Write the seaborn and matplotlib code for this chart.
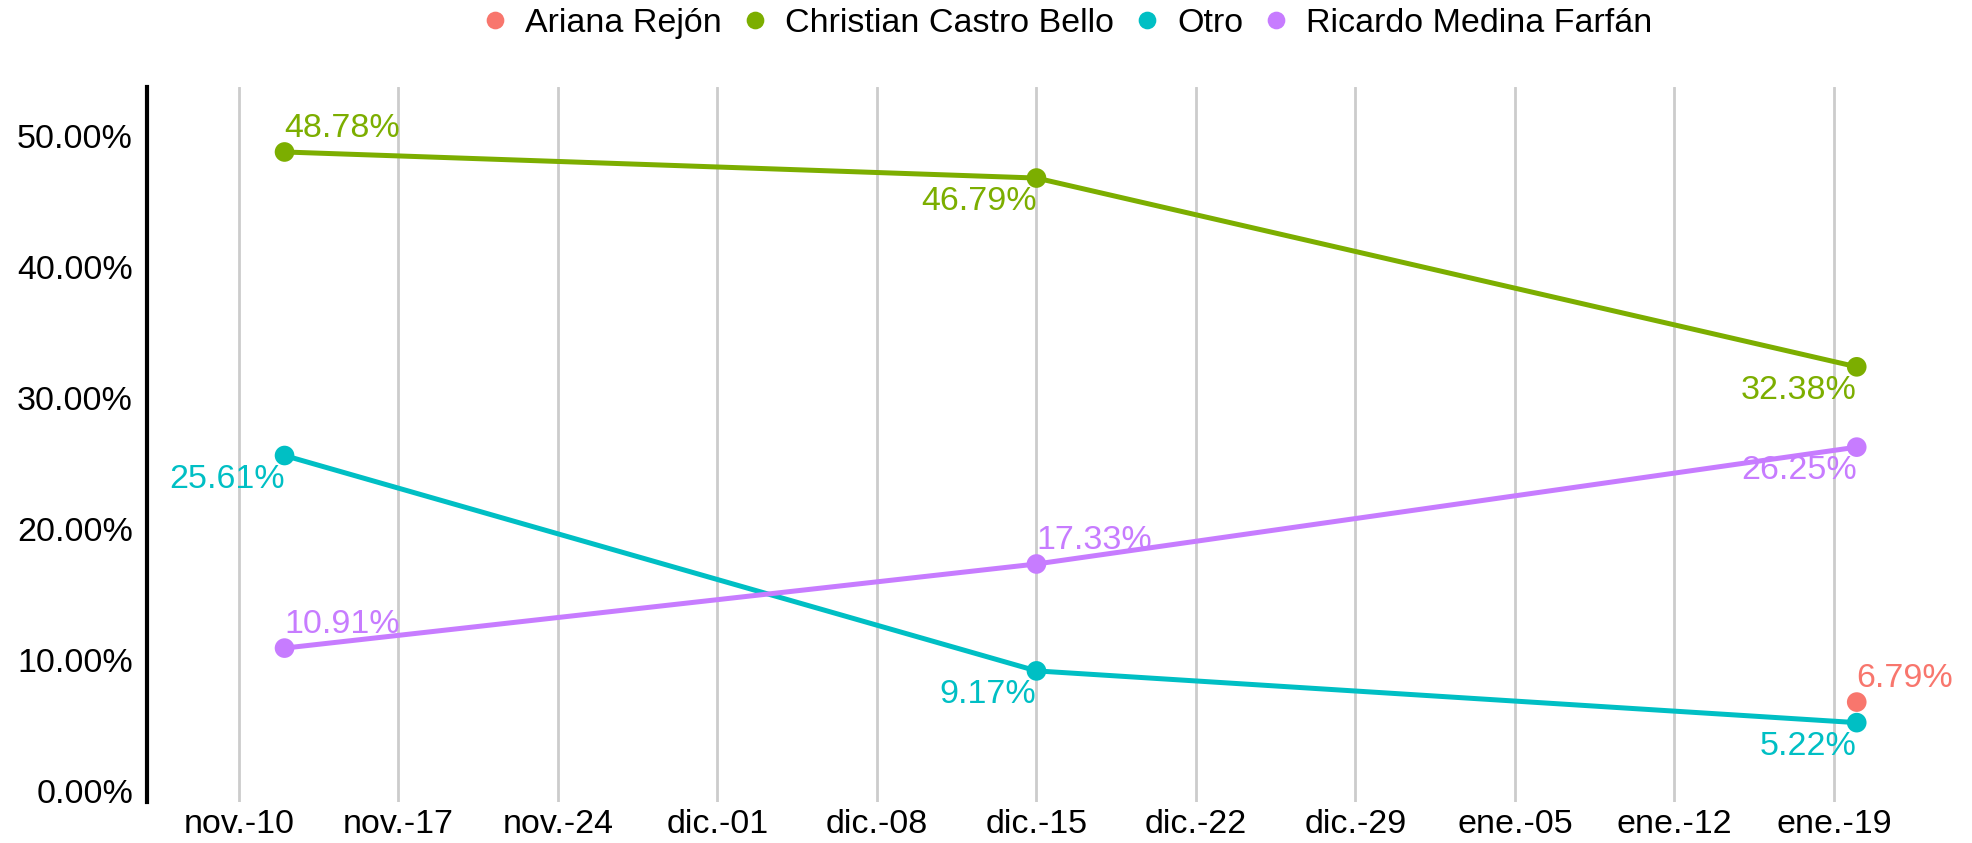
import pandas as pd
import matplotlib.pyplot as plt
import seaborn as sns

# datos de la encuesta (porcentajes)
candidatos = ["Ariana Rejón", "Christian Castro Bello", "Otro", "Ricardo Medina Farfán"]
fechas = ["2019-11-12", "2019-12-15", "2020-01-20"]
ariana = [None, None, 6.79]
christian = [48.78, 46.79, 32.38]
otro = [25.61, 9.17, 5.22]
ricardo = [10.91, 17.33, 26.25]
# etiqueta arriba-derecha (True) o abajo-izquierda (False)
etiqueta_arriba = {
    "Ariana Rejón": [None, None, True],
    "Christian Castro Bello": [True, False, False],
    "Otro": [False, False, False],
    "Ricardo Medina Farfán": [True, True, False],
}

ticks_fechas = pd.date_range("2019-11-10", "2020-01-19", freq="7D")
ticks_etiquetas = ["nov.-10", "nov.-17", "nov.-24", "dic.-01", "dic.-08", "dic.-15",
                   "dic.-22", "dic.-29", "ene.-05", "ene.-12", "ene.-19"]

colores = ["#F8766D", "#7CAE00", "#00BFC4", "#C77CFF"]

filas = []
for nombre, serie in zip(candidatos, [ariana, christian, otro, ricardo]):
    for f, v, arriba in zip(fechas, serie, etiqueta_arriba[nombre]):
        if v is not None:
            filas.append({"fecha": pd.Timestamp(f), "valor": v, "candidato": nombre, "arriba": arriba})
df = pd.DataFrame(filas)

sns.set_style("white")
plt.rcParams["font.family"] = ["Liberation Sans", "DejaVu Sans"]
tam = 24.5

fig = plt.figure(figsize=(19.72, 8.43), dpi=100)
ax = fig.add_axes([0.0745, 0.0486, 0.965 - 0.0745, 0.8968 - 0.0486])

paleta = dict(zip(candidatos, colores))
sns.lineplot(data=df, x="fecha", y="valor", hue="candidato", hue_order=candidatos,
             palette=paleta, linewidth=3.6, legend=False, ax=ax)
sns.scatterplot(data=df, x="fecha", y="valor", hue="candidato", hue_order=candidatos,
                palette=paleta, s=200, edgecolor="none", ax=ax, zorder=3)

for _, r in df.iterrows():
    if r["arriba"]:
        ax.annotate(f"{r['valor']:.2f}%", (r["fecha"], r["valor"]), xytext=(0, 6),
                    textcoords="offset points", ha="left", va="bottom",
                    color=paleta[r["candidato"]], fontsize=tam)
    else:
        ax.annotate(f"{r['valor']:.2f}%", (r["fecha"], r["valor"]), xytext=(0, -6),
                    textcoords="offset points", ha="right", va="top",
                    color=paleta[r["candidato"]], fontsize=tam)

x0 = ticks_fechas[0] - pd.Timedelta(days=4.04)
x1 = ticks_fechas[-1] + pd.Timedelta(days=3.03)
ax.set_xlim(x0, x1)
ax.set_ylim(-0.84, 53.74)

ax.set_xticks(ticks_fechas)
ax.set_xticklabels(ticks_etiquetas)
ax.set_yticks([0, 10, 20, 30, 40, 50])
ax.set_yticklabels([f"{v:.2f}%" for v in [0, 10, 20, 30, 40, 50]])
ax.tick_params(axis="both", length=0, labelsize=tam, labelcolor="black")
ax.tick_params(axis="x", pad=5)
ax.tick_params(axis="y", pad=10)

ax.grid(axis="x", color="#cccccc", linewidth=2)
ax.grid(axis="y", visible=False)
for lado in ["top", "right", "bottom"]:
    ax.spines[lado].set_visible(False)
ax.spines["left"].set_color("black")
ax.spines["left"].set_linewidth(3)
ax.set_xlabel("")
ax.set_ylabel("")

sns.move_legend(ax, "center", bbox_to_anchor=(0.541, 0.972), bbox_transform=fig.transFigure,
                ncol=4, frameon=False, title=None, fontsize=tam, markerscale=0.9,
                handletextpad=0.5, columnspacing=0.55, handlelength=0.8)
for t in ax.get_legend().get_texts():
    t.set_color("black")

fig.savefig("out.png", dpi=100)
